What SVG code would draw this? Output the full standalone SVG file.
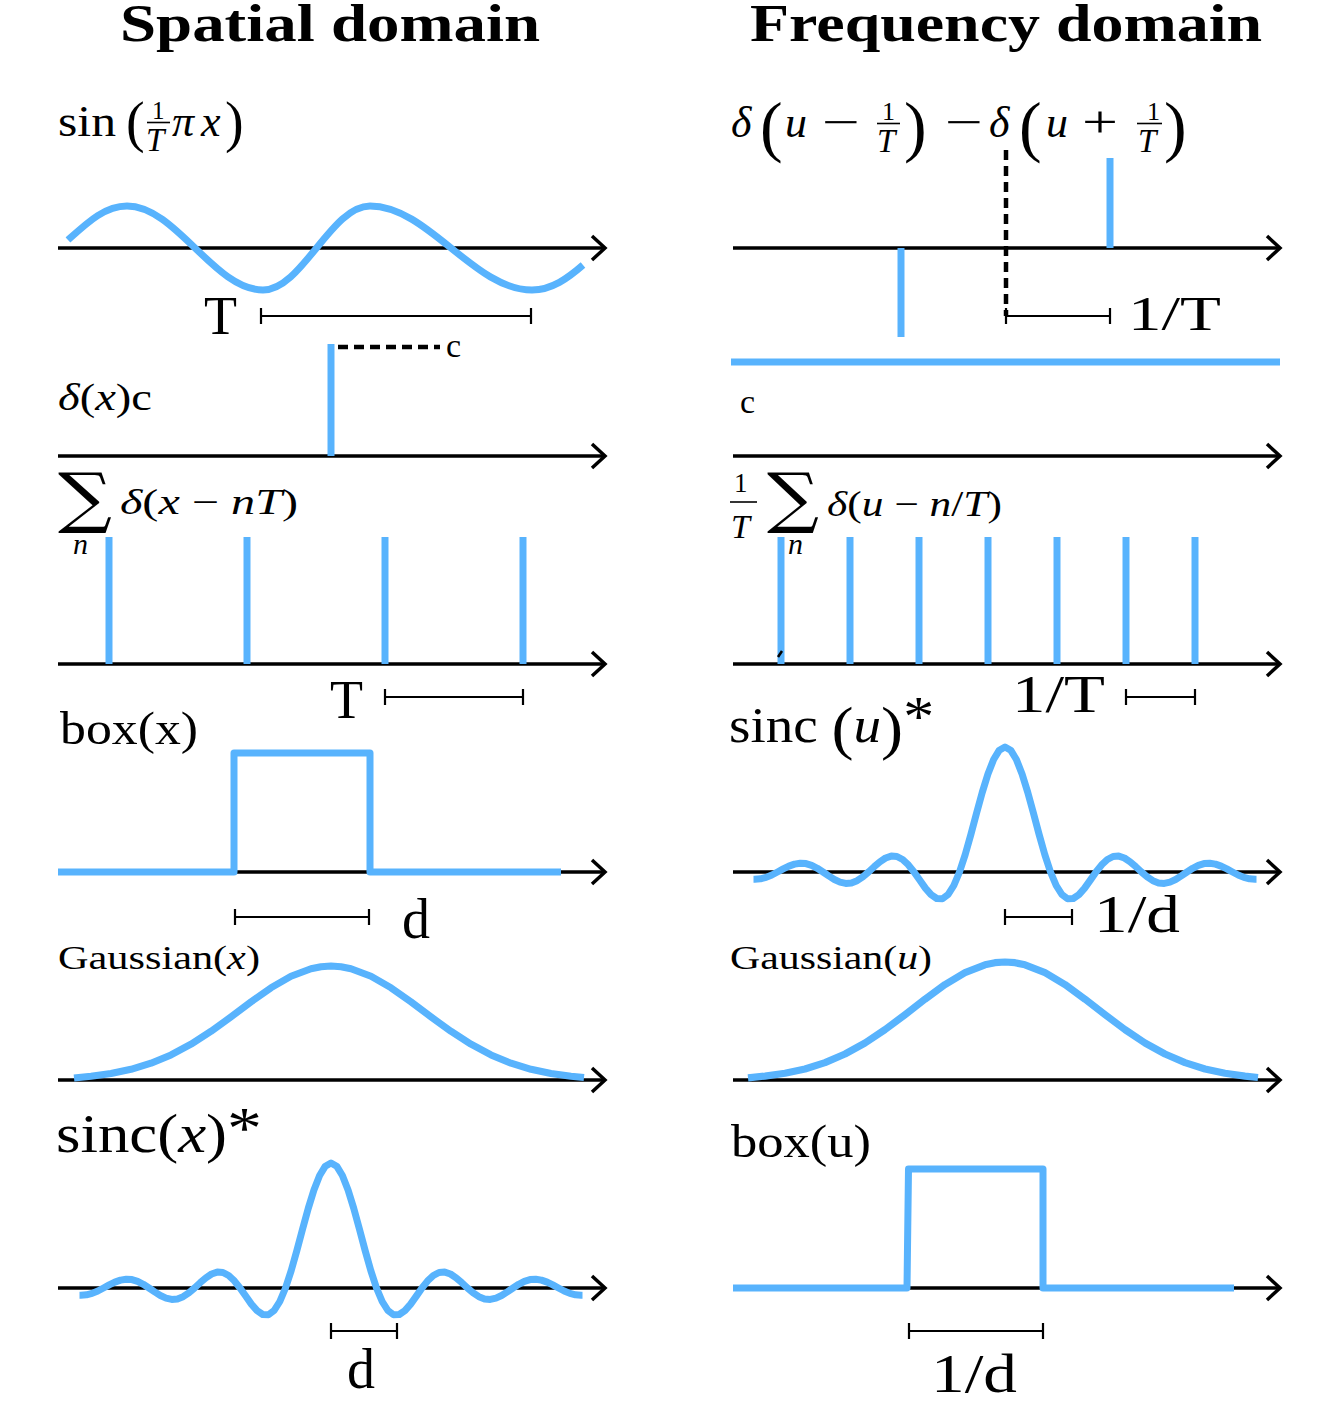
<svg xmlns="http://www.w3.org/2000/svg" xmlns:xlink="http://www.w3.org/1999/xlink" width="1339" height="1422" viewBox="0 0 1339 1422">
<style>
.ax{stroke:#000;stroke-width:3.5;fill:none;marker-end:url(#arr)}
.sig{stroke:#58b3fd;stroke-width:7;fill:none;stroke-linejoin:round}
.dim{stroke:#000;stroke-width:2.2;fill:none}
.dash{stroke:#000;stroke-width:4.5;stroke-dasharray:10 6;fill:none}
.fr{stroke:#000;stroke-width:1.6}
.tx{font-family:"Liberation Serif","DejaVu Serif",serif;fill:#000}
.i{font-style:italic}
.b{font-weight:bold}
.sum{font-family:"DejaVu Serif","Liberation Serif",serif;fill:#000}
</style>
<defs>
<marker id="arr" markerUnits="userSpaceOnUse" markerWidth="22" markerHeight="30" viewBox="0 0 22 30" refX="15" refY="15" orient="auto" overflow="visible">
<path d="M2,3 L15,15 L2,27" fill="none" stroke="#000" stroke-width="3.5"/>
</marker>
<path id="sinc" d="M-251.5,7.2 L-250.25,7.2 L-244.56,6.8 L-238.88,5.4 L-233.19,3 L-227.5,0 L-221.81,-3.1 L-216.13,-5.9 L-210.44,-7.9 L-204.75,-8.8 L-199.06,-8.4 L-193.38,-6.6 L-187.69,-3.7 L-182,0 L-176.31,3.9 L-170.63,7.5 L-164.94,10.1 L-159.25,11.4 L-153.56,10.9 L-147.88,8.7 L-142.19,4.9 L-136.5,0 L-130.81,-5.3 L-125.13,-10.2 L-119.44,-14 L-113.75,-15.9 L-108.06,-15.5 L-102.38,-12.5 L-96.69,-7.2 L-91,0 L-85.31,8.1 L-79.63,16.1 L-73.94,22.6 L-68.25,26.5 L-62.56,26.7 L-56.88,22.5 L-51.19,13.5 L-45.5,0 L-39.81,-17.4 L-34.13,-37.5 L-28.44,-58.8 L-22.75,-79.6 L-17.06,-98 L-11.38,-112.5 L-5.69,-121.8 L0,-125 L5.69,-121.8 L11.38,-112.5 L17.06,-98 L22.75,-79.6 L28.44,-58.8 L34.13,-37.5 L39.81,-17.4 L45.5,0 L51.19,13.5 L56.88,22.5 L62.56,26.7 L68.25,26.5 L73.94,22.6 L79.63,16.1 L85.31,8.1 L91,0 L96.69,-7.2 L102.38,-12.5 L108.06,-15.5 L113.75,-15.9 L119.44,-14 L125.13,-10.2 L130.81,-5.3 L136.5,0 L142.19,4.9 L147.88,8.7 L153.56,10.9 L159.25,11.4 L164.94,10.1 L170.63,7.5 L176.31,3.9 L182,0 L187.69,-3.7 L193.38,-6.6 L199.06,-8.4 L204.75,-8.8 L210.44,-7.9 L216.13,-5.9 L221.81,-3.1 L227.5,0 L233.19,3 L238.88,5.4 L244.56,6.8 L250.25,7.2 L251.5,7.2"/>
<path id="gauss" d="M-257,-2 L-240,-3.8 L-220,-6.5 L-200,-10.7 L-180,-16.8 L-160,-25.1 L-140,-35.8 L-120,-48.7 L-100,-63.1 L-80,-78.1 L-60,-92.2 L-40,-103.7 L-20,-111.3 L-10,-113.3 L0,-114 L10,-113.3 L20,-111.3 L40,-103.7 L60,-92.2 L80,-78.1 L100,-63.1 L120,-48.7 L140,-35.8 L160,-25.1 L180,-16.8 L200,-10.7 L220,-6.5 L240,-3.8 L253,-2.4"/>
</defs>
<rect width="1339" height="1422" fill="#fff"/>

<g id="title-spatial">
<text class="tx b" x="120" y="41" font-size="52" textLength="420" lengthAdjust="spacingAndGlyphs">Spatial domain</text>
</g>
<g id="title-frequency">
<text class="tx b" x="750" y="41" font-size="52" textLength="512" lengthAdjust="spacingAndGlyphs">Frequency domain</text>
</g>

<g id="connectors">
<line class="ax" x1="58" y1="248" x2="605" y2="248"/>
<line class="ax" x1="58" y1="456" x2="605" y2="456"/>
<line class="ax" x1="58" y1="664" x2="605" y2="664"/>
<line class="ax" x1="58" y1="872" x2="605" y2="872"/>
<line class="ax" x1="58" y1="1080" x2="605" y2="1080"/>
<line class="ax" x1="58" y1="1288" x2="605" y2="1288"/>
<line class="ax" x1="733" y1="248" x2="1280" y2="248"/>
<line class="ax" x1="733" y1="456" x2="1280" y2="456"/>
<line class="ax" x1="733" y1="664" x2="1280" y2="664"/>
<line class="ax" x1="733" y1="872" x2="1280" y2="872"/>
<line class="ax" x1="733" y1="1080" x2="1280" y2="1080"/>
<line class="ax" x1="733" y1="1288" x2="1280" y2="1288"/>
</g>

<g id="node-sin">
<text class="tx" x="58" y="136" font-size="44" textLength="58" lengthAdjust="spacingAndGlyphs">sin</text>
<text class="tx" x="126" y="141" font-size="56">(</text>
<text class="tx" x="152" y="119" font-size="25">1</text>
<line class="fr" x1="147" y1="122.5" x2="170" y2="122.5"/>
<text class="tx i" x="146" y="151" font-size="33">T</text>
<text class="tx i" x="172" y="136" font-size="44">π</text>
<text class="tx i" x="201" y="136" font-size="44">x</text>
<text class="tx" x="225" y="141" font-size="56">)</text>
<path class="sig" d="M68,240 C88,222 105,206 127,206 C176,206 214,290 263,290 C302,290 331,206 370,206 C428,206 474,290 532,290 C552,290 568,278 583,265"/>
<path class="dim" d="M261,308 V324 M261,316 H531 M531,308 V324"/>
<text class="tx" x="204" y="334" font-size="54">T</text>
</g>

<g id="node-sin-ft">
<text class="tx i" x="731" y="137" font-size="44">δ</text>
<text class="tx" x="760" y="149" font-size="68">(</text>
<text class="tx i" x="785" y="137" font-size="44">u</text>
<text class="tx" x="822" y="137" font-size="44" textLength="38" lengthAdjust="spacingAndGlyphs">−</text>
<text class="tx" x="882" y="120" font-size="26">1</text>
<line class="fr" x1="877" y1="123.5" x2="900" y2="123.5"/>
<text class="tx i" x="877" y="152" font-size="33">T</text>
<text class="tx" x="904" y="149" font-size="68">)</text>
<text class="tx" x="945" y="137" font-size="44" textLength="38" lengthAdjust="spacingAndGlyphs">−</text>
<text class="tx i" x="989" y="137" font-size="44">δ</text>
<text class="tx" x="1019" y="149" font-size="68">(</text>
<text class="tx i" x="1046" y="137" font-size="44">u</text>
<text class="tx" x="1082" y="137" font-size="44" textLength="36" lengthAdjust="spacingAndGlyphs">+</text>
<text class="tx" x="1147" y="120" font-size="26">1</text>
<line class="fr" x1="1137" y1="123.5" x2="1162" y2="123.5"/>
<text class="tx i" x="1138" y="152" font-size="33">T</text>
<text class="tx" x="1164" y="149" font-size="68">)</text>
<line class="dash" x1="1006" y1="150" x2="1006" y2="316" stroke-width="4"/>
<line class="sig" x1="1110" y1="158" x2="1110" y2="248"/>
<line class="sig" x1="901" y1="248" x2="901" y2="337"/>
<path class="dim" d="M1006,308 V324 M1006,316 H1110 M1110,308 V324"/>
<text class="tx" x="1128" y="330" font-size="48" textLength="93" lengthAdjust="spacingAndGlyphs">1/T</text>
</g>

<g id="node-delta">
<line class="sig" x1="331" y1="344" x2="331" y2="456"/>
<line class="dash" x1="338" y1="347" x2="440" y2="347"/>
<text class="tx" x="446" y="357" font-size="34">c</text>
<text class="tx" x="58" y="410" font-size="37" textLength="94" lengthAdjust="spacingAndGlyphs"><tspan class="i">δ</tspan>(<tspan class="i">x</tspan>)c</text>
</g>

<g id="node-delta-ft">
<line class="sig" x1="731" y1="362" x2="1280" y2="362"/>
<text class="tx" x="740" y="413" font-size="34">c</text>
</g>

<g id="node-comb">
<text class="sum" x="58" y="520" font-size="66" textLength="54" lengthAdjust="spacingAndGlyphs">∑</text>
<text class="tx i" x="73" y="554" font-size="30">n</text>
<text class="tx" x="120" y="514" font-size="36" textLength="178" lengthAdjust="spacingAndGlyphs"><tspan class="i">δ</tspan>(<tspan class="i">x</tspan> − <tspan class="i">nT</tspan>)</text>
<line class="sig" x1="109" y1="537" x2="109" y2="664"/>
<line class="sig" x1="247" y1="537" x2="247" y2="664"/>
<line class="sig" x1="385" y1="537" x2="385" y2="664"/>
<line class="sig" x1="523" y1="537" x2="523" y2="664"/>
<path class="dim" d="M385,689 V705 M385,697 H523 M523,689 V705"/>
<text class="tx" x="330" y="718" font-size="54">T</text>
</g>

<g id="node-comb-ft">
<text class="tx" x="734" y="492" font-size="27">1</text>
<line class="fr" x1="730" y1="502" x2="757" y2="502"/>
<text class="tx i" x="731" y="538" font-size="34">T</text>
<text class="sum" x="767" y="520" font-size="66" textLength="52" lengthAdjust="spacingAndGlyphs">∑</text>
<text class="tx i" x="788" y="554" font-size="30">n</text>
<text class="tx" x="827" y="516" font-size="36" textLength="175" lengthAdjust="spacingAndGlyphs"><tspan class="i">δ</tspan>(<tspan class="i">u</tspan> − <tspan class="i">n</tspan>/<tspan class="i">T</tspan>)</text>
<line class="sig" x1="781" y1="537" x2="781" y2="664"/>
<line class="sig" x1="850" y1="537" x2="850" y2="664"/>
<line class="sig" x1="919" y1="537" x2="919" y2="664"/>
<line class="sig" x1="988" y1="537" x2="988" y2="664"/>
<line class="sig" x1="1057" y1="537" x2="1057" y2="664"/>
<line class="sig" x1="1126" y1="537" x2="1126" y2="664"/>
<line class="sig" x1="1195" y1="537" x2="1195" y2="664"/>
<line x1="778" y1="657" x2="782" y2="651" stroke="#000" stroke-width="2.5"/>
<path class="dim" d="M1126,689 V705 M1126,697 H1195 M1195,689 V705"/>
<text class="tx" x="1012" y="712" font-size="52" textLength="93" lengthAdjust="spacingAndGlyphs">1/T</text>
</g>

<g id="node-box">
<text class="tx" x="60" y="744" font-size="46" textLength="138" lengthAdjust="spacingAndGlyphs">box(x)</text>
<path class="sig" d="M58,872 H234 V753 H370 V872 H561" stroke-linejoin="miter"/>
<path class="dim" d="M235,909 V925 M235,917 H369 M369,909 V925"/>
<text class="tx" x="402" y="938" font-size="56">d</text>
</g>

<g id="node-box-ft">
<text class="tx" x="731" y="1157" font-size="46" textLength="140" lengthAdjust="spacingAndGlyphs">box(u)</text>
<path class="sig" d="M733,1288 H907 L908.5,1169 H1043 V1288 H1234" stroke-linejoin="miter"/>
<path class="dim" d="M909,1323 V1339 M909,1331 H1043 M1043,1323 V1339"/>
<text class="tx" x="931" y="1392" font-size="54" textLength="86" lengthAdjust="spacingAndGlyphs">1/d</text>
</g>

<g id="node-gauss">
<text class="tx" x="58" y="969" font-size="34" textLength="202" lengthAdjust="spacingAndGlyphs">Gaussian(<tspan class="i">x</tspan>)</text>
<use xlink:href="#gauss" class="sig" transform="translate(331,1080)"/>
</g>

<g id="node-gauss-ft">
<text class="tx" x="730" y="969" font-size="34" textLength="202" lengthAdjust="spacingAndGlyphs">Gaussian(<tspan class="i">u</tspan>)</text>
<use xlink:href="#gauss" class="sig" transform="translate(1005,1080) scale(1,1.035)"/>
</g>

<g id="node-sinc">
<text class="tx" x="56" y="1152" font-size="54" textLength="206" lengthAdjust="spacingAndGlyphs">sinc(<tspan class="i">x</tspan>)<tspan font-size="60" dy="-4">*</tspan></text>
<use xlink:href="#sinc" class="sig" transform="translate(331,1288)"/>
<path class="dim" d="M331,1323 V1339 M331,1331 H397 M397,1323 V1339"/>
<text class="tx" x="347" y="1388" font-size="56">d</text>
</g>

<g id="node-sinc-ft">
<text class="tx" x="729" y="742" font-size="50" textLength="205" lengthAdjust="spacingAndGlyphs">sinc <tspan font-size="60" dy="6">(</tspan><tspan class="i" dy="-6">u</tspan><tspan font-size="60" dy="6">)</tspan><tspan font-size="56" dy="-12">*</tspan></text>
<use xlink:href="#sinc" class="sig" transform="translate(1005,872)"/>
<path class="dim" d="M1005,909 V925 M1005,917 H1072 M1072,909 V925"/>
<text class="tx" x="1094" y="932" font-size="52" textLength="86" lengthAdjust="spacingAndGlyphs">1/d</text>
</g>
</svg>
